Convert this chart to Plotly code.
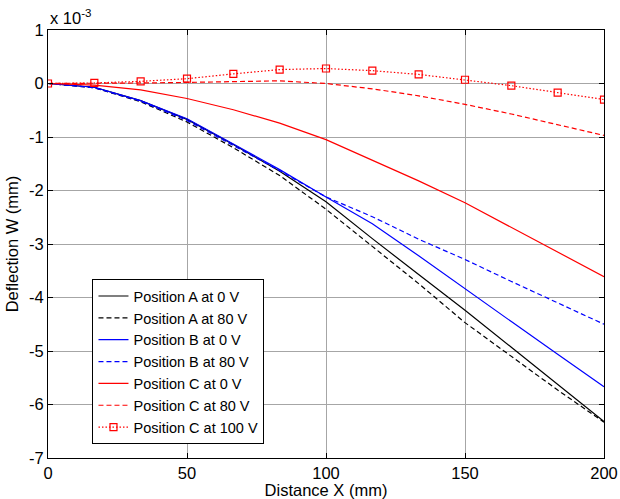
import plotly.graph_objects as go

# Distance along the plate (mm)
distance_mm = [0, 16.67, 33.33, 50, 66.67, 83.33, 100, 116.67, 133.33, 150, 166.67, 183.33, 200]

# Deflection W, in units of 1e-3 mm
pos_a_0v = [0, -0.07, -0.32, -0.67, -1.14, -1.64, -2.21, -2.90, -3.57, -4.24, -4.93, -5.62, -6.32]
pos_a_80v = [0, -0.08, -0.34, -0.72, -1.20, -1.72, -2.35, -3.04, -3.74, -4.47, -5.10, -5.73, -6.33]
pos_b_0v = [0, -0.07, -0.32, -0.66, -1.13, -1.61, -2.12, -2.62, -3.22, -3.84, -4.45, -5.06, -5.67]
pos_b_80v = [0, -0.08, -0.33, -0.69, -1.16, -1.63, -2.12, -2.49, -2.91, -3.29, -3.70, -4.10, -4.50]
pos_c_0v = [0, -0.03, -0.12, -0.28, -0.49, -0.74, -1.05, -1.43, -1.82, -2.23, -2.69, -3.15, -3.61]
pos_c_80v = [0, 0.00, 0.01, 0.02, 0.04, 0.05, 0.00, -0.10, -0.23, -0.39, -0.57, -0.77, -0.97]
pos_c_100v = [0, 0.01, 0.04, 0.09, 0.18, 0.26, 0.28, 0.24, 0.17, 0.07, -0.04, -0.17, -0.30]

x_ticks = [0, 50, 100, 150, 200]
y_ticks = [1, 0, -1, -2, -3, -4, -5, -6, -7]

FONT = "Liberation Sans, Arial, sans-serif"
DASH = "5px,3px"
DOT = "1.5px,2px"
LW = 1.2

series = [
    ("Position A at 0 V", pos_a_0v, "#000000", "solid", False),
    ("Position A at 80 V", pos_a_80v, "#000000", DASH, False),
    ("Position B at 0 V", pos_b_0v, "#0000ff", "solid", False),
    ("Position B at 80 V", pos_b_80v, "#0000ff", DASH, False),
    ("Position C at 0 V", pos_c_0v, "#ff0000", "solid", False),
    ("Position C at 80 V", pos_c_80v, "#ff0000", DASH, False),
    ("Position C at 100 V", pos_c_100v, "#ff0000", DOT, True),
]

fig = go.Figure()
for name, vals, color, dash, markers in series:
    fig.add_trace(go.Scatter(
        x=distance_mm, y=vals, name=name,
        mode="lines+markers" if markers else "lines",
        line=dict(color=color, width=LW, dash=dash),
        marker=dict(symbol="square-open", size=7, color=color, line=dict(width=1.2, color=color)),
    ))

axis_common = dict(
    showgrid=True, gridcolor="#a6a6a6", gridwidth=1,
    showline=True, linecolor="black", linewidth=1.2, mirror="ticks",
    ticks="inside", ticklen=5, tickcolor="black", tickwidth=1,
    zeroline=False, automargin=False,
    tickfont=dict(family=FONT, size=16.5, color="black"),
)

fig.update_xaxes(
    range=[0, 200], tickvals=x_ticks, ticktext=[str(v) for v in x_ticks],
    title=dict(text="Distance X (mm)", font=dict(family=FONT, size=16.5, color="black"), standoff=0),
    **axis_common,
)
fig.update_yaxes(
    range=[-7, 1], tickvals=y_ticks, ticktext=[str(v) for v in y_ticks],
    title=dict(text="Deflection W (mm)", font=dict(family=FONT, size=16.5, color="black"), standoff=6),
    **axis_common,
)

fig.add_annotation(
    xref="paper", yref="paper", x=0, y=1, xanchor="left", yanchor="bottom",
    text="x 10<sup>-3</sup>", showarrow=False, yshift=1,
    font=dict(family=FONT, size=16.5, color="black"),
)

fig.update_layout(
    width=620, height=499,
    margin=dict(l=48, r=16, t=30, b=41),
    paper_bgcolor="white", plot_bgcolor="white",
    showlegend=True,
    legend=dict(
        x=0.08, y=0.418, xanchor="left", yanchor="top",
        bgcolor="white", bordercolor="black", borderwidth=1,
        font=dict(family=FONT, size=14.5, color="black"),
        tracegroupgap=0,
    ),
)

fig.write_html("out.html")
